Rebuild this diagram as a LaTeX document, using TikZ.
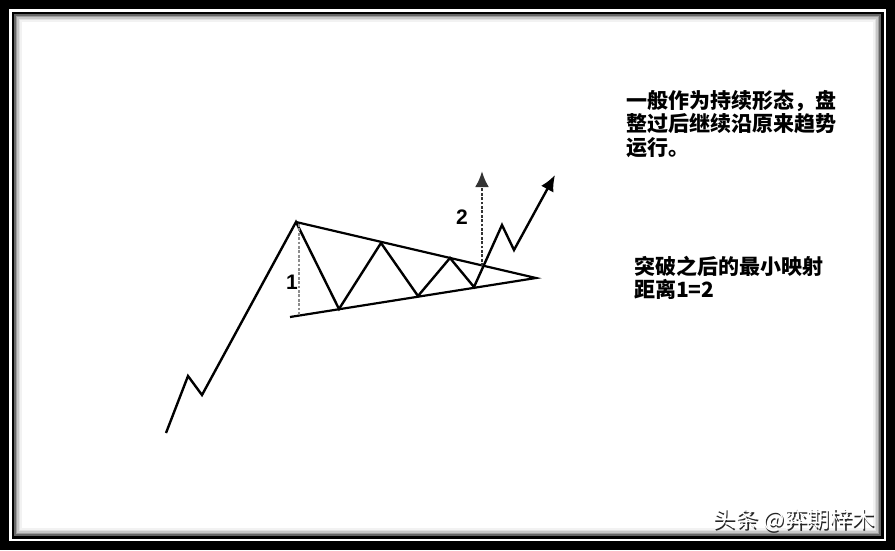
\documentclass[tikz,border=0pt]{standalone}
\usepackage{fontspec}
\setmainfont{Liberation Sans}
\newfontfamily\cjk{Noto Sans CJK SC}
\usepackage{tikz}
\usetikzlibrary{calc}
\usetikzlibrary{arrows.meta,positioning}

\tikzset{
	price/.style={line width=2.4pt,line join=miter},
	trend/.style={line width=2.2pt},
	proj/.style={line width=2.8pt,black!45,dash pattern=on 2.8pt off 1.6pt},
	tip/.style={-{Latex[length=16pt,width=14pt]}},
	note/.style={font=\cjk\bfseries\fontsize{21}{23.5}\selectfont,align=left,anchor=north west,inner sep=0pt},
	numlabel/.style={font=\bfseries\fontsize{21}{21}\selectfont,inner sep=0pt},
	wmark/.style={font=\cjk\fontsize{22.5}{22.5}\selectfont,anchor=west,inner sep=0pt}
}

\begin{document}
\begin{tikzpicture}[x=1pt,y=-1pt]
		\useasboundingbox (0,0) rectangle (895,550);
		% frame
		\fill[black] (0,0) rectangle (895,550);
		\fill[white] (9,9) rectangle (886,541);
		\fill[black] (11.5,11.5) rectangle (883.5,538.5);
		\fill[white] (14,14) rectangle (881,536);
		\foreach \i/\c in {0/60,1/38,2/22,3/12,4/5}
			\draw[line width=1.6pt,black!\c] (14.8+1.6*\i,14.8+1.6*\i) rectangle (880.2-1.6*\i,535.2-1.6*\i);
		% points of the price path
		\coordinate (start) at (166,433);
		\coordinate (h0) at (188,376);
		\coordinate (l0) at (202,395);
		\coordinate (peak) at (296,222);
		\coordinate (b1) at (339,309);
		\coordinate (t1) at (381,243);
		\coordinate (b2) at (418,296);
		\coordinate (t2) at (450,258);
		\coordinate (b3) at (474,287);
		\coordinate (h1) at (502,225);
		\coordinate (l1) at (514,250);
		\coordinate (end) at (555,175);
		\coordinate (apex) at (536,278);
		\coordinate (low) at (290,317);
		\draw[trend] (peak)--(apex)--(low);
		\draw[price,tip] (start)--(h0)--(l0)--(peak)--(b1)--(t1)--(b2)--(t2)--(b3)--(h1)--(l1)--(end);
		% projections
		\coordinate (d1top) at (299,224);
		\coordinate (d1bot) at (299,315);
		\coordinate (d2bot) at (482,266);
		\coordinate (d2top) at (482,171);
		\draw[proj] (d1top)--(d1bot);
		\draw[proj,black!80,tip] (d2bot)--(d2top);
		\node[numlabel] (one) at (292,282) {1};
		\node[numlabel] (two) at (462,217) {2};
		% notes
		\node[note] (cont) at (626,90) {一般作为持续形态，盘\\整过后继续沿原来趋势\\运行。};
		\node[note] (dist) at (634,256) {突破之后的最小映射\\距离1=2};
		% watermark
		\node[wmark,black!85] (markshade) at (714.5,521.5) {头条 @弈期梓木};
		\node[wmark,white] (mark) at (713,520) {头条 @弈期梓木};
	\end{tikzpicture}
\end{document}
